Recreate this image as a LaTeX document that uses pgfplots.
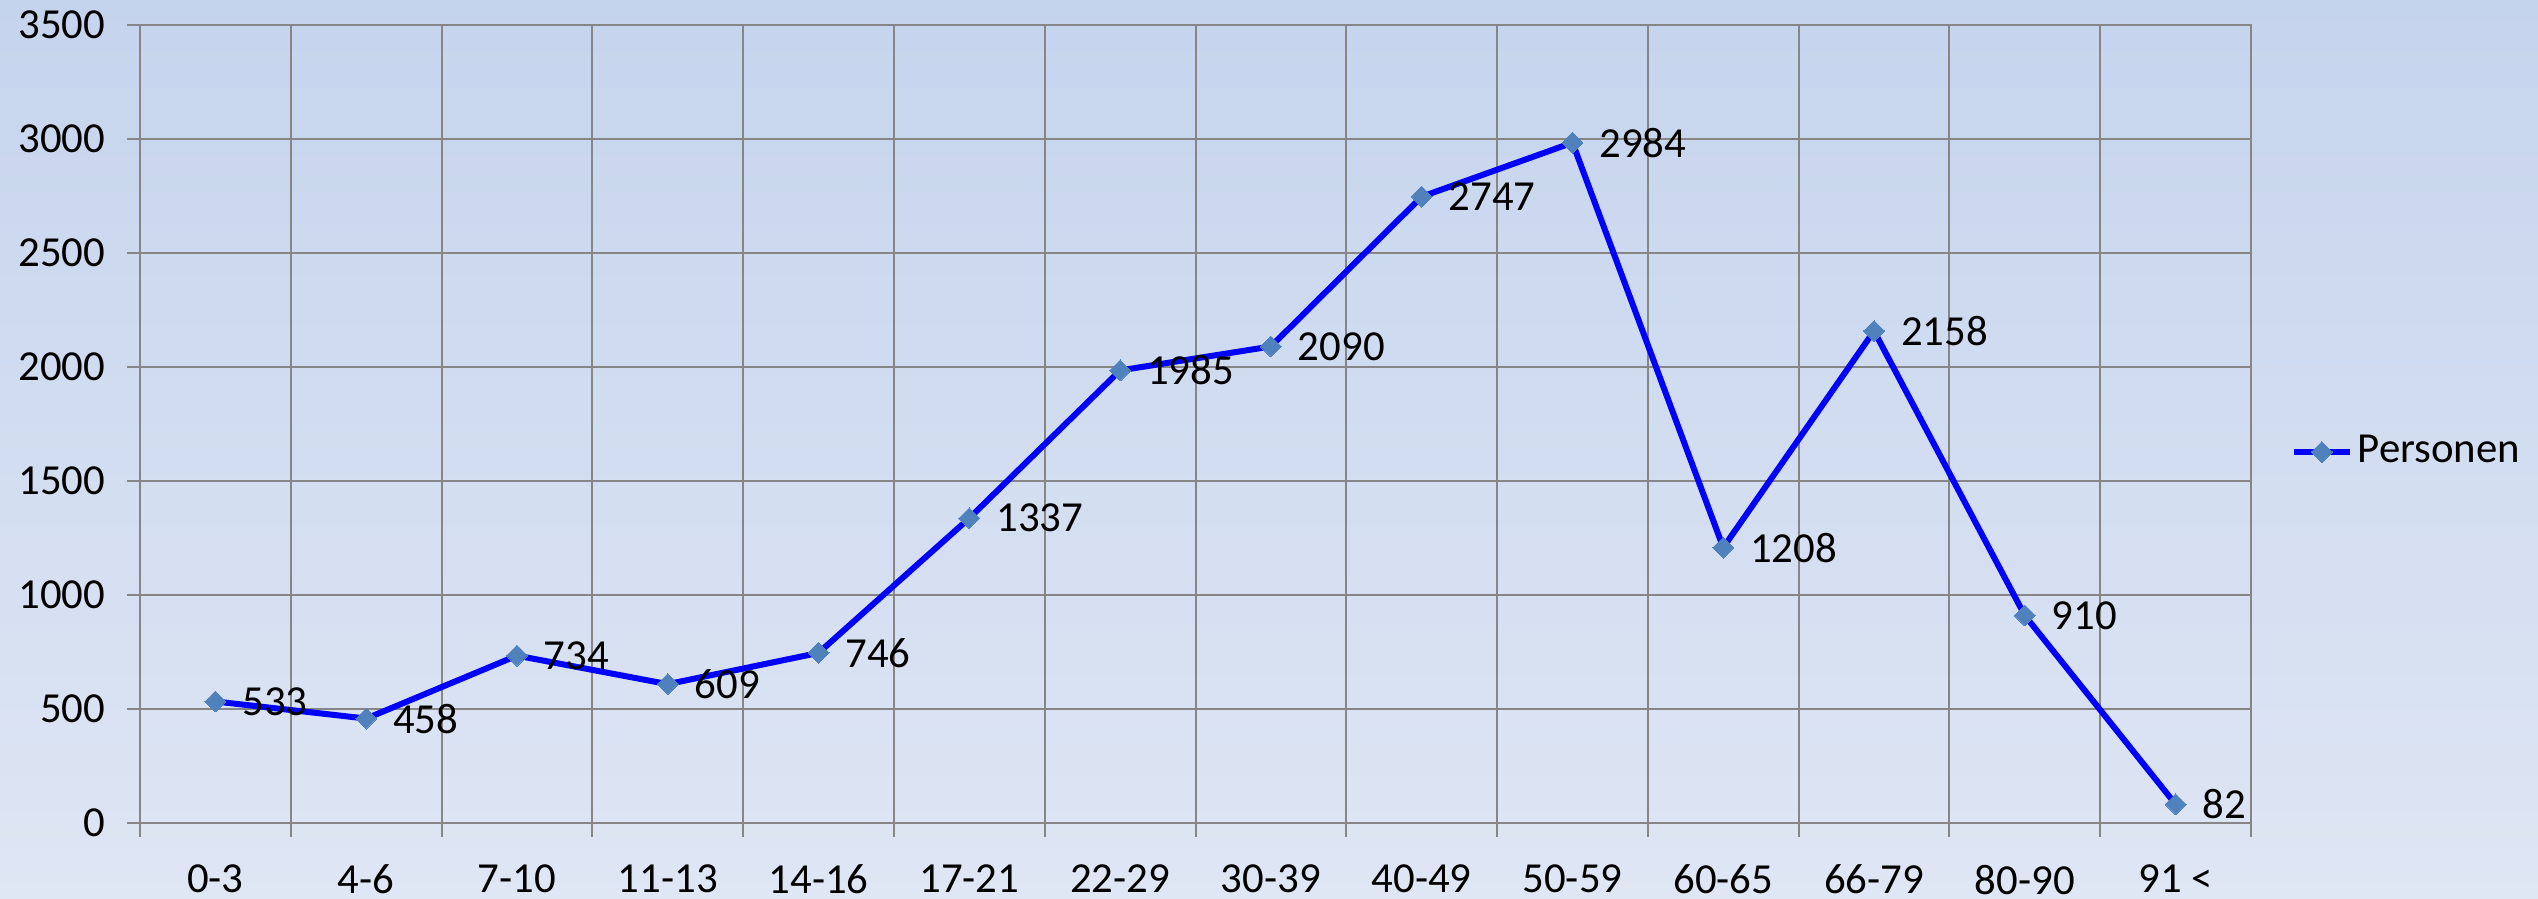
\documentclass[border=0pt]{standalone}
\usepackage{fontspec}
\setmainfont{Carlito}
\usepackage{pgfplots}
\pgfplotsset{compat=1.18}
\definecolor{gridgray}{RGB}{134,134,134}
\definecolor{markblue}{RGB}{79,129,189}
\definecolor{bgtop}{RGB}{197,212,237}
\definecolor{bgbot}{RGB}{223,230,244}
\newcommand{\chartfont}{\fontsize{10.7pt}{12.8pt}\selectfont}
\begin{document}
\begin{tikzpicture}
\shade[top color=bgtop, bottom color=bgbot] (-35pt,-19pt) rectangle (599.5pt,205.75pt);
\begin{axis}[
  at={(0pt,0pt)}, anchor=south west,
  scale only axis, width=527.75pt, height=199.5pt,
  xmin=-0.5, xmax=13.5, ymin=0, ymax=3500,
  clip=false,
  /pgf/number format/assume math mode=true,
  /pgf/number format/1000 sep={},
  xtick={0,...,13},
  xticklabels={0-3,4-6,7-10,11-13,14-16,17-21,22-29,30-39,40-49,50-59,60-65,66-79,80-90,91 <},
  minor xtick={-0.5,0.5,...,13.5},
  ytick={0,500,...,3500},
  xminorgrids=true, xmajorgrids=false, ymajorgrids=true,
  grid style={gridgray, line width=0.5pt},
  minor grid style={gridgray, line width=0.5pt},
  axis line style={gridgray, line width=0.5pt},
  tick style={gridgray, line width=0.5pt},
  major x tick style={draw=none},
  tick align=outside,
  major tick length=3.25pt,
  minor tick length=3.5pt,
  xtick pos=left, ytick pos=left,
  tick label style={font=\chartfont, text=black, inner sep=0pt},
  xticklabel style={yshift=-7pt},
  yticklabel style={xshift=-5.25pt},
  legend style={at={(1.0185,0.465)}, anchor=west, draw=none, fill=none, inner sep=0pt,
    font=\chartfont, nodes={inner sep=1.25pt}},
  legend image code/.code={
    \draw[#1, mark repeat=2, mark phase=2] plot coordinates {(0pt,0pt) (7pt,0pt) (14pt,0pt)};
  },
]
\addplot[blue, line width=1.5pt, mark=square*, mark size=1.85pt,
  mark options={rotate=45, fill=markblue, draw=markblue, line width=0pt},
  nodes near coords,
  every node near coord/.append style={anchor=west, inner sep=0pt, xshift=6.75pt, text=black, font=\chartfont}]
  coordinates {
  (0,533) (1,458) (2,734) (3,609) (4,746) (5,1337) (6,1985) (7,2090)
  (8,2747) (9,2984) (10,1208) (11,2158) (12,910) (13,82)
  };
\addlegendentry{Personen}
\end{axis}
\pgfresetboundingbox
\useasboundingbox (-35pt,-19pt) rectangle (599.5pt,205.75pt);
\end{tikzpicture}
\end{document}
